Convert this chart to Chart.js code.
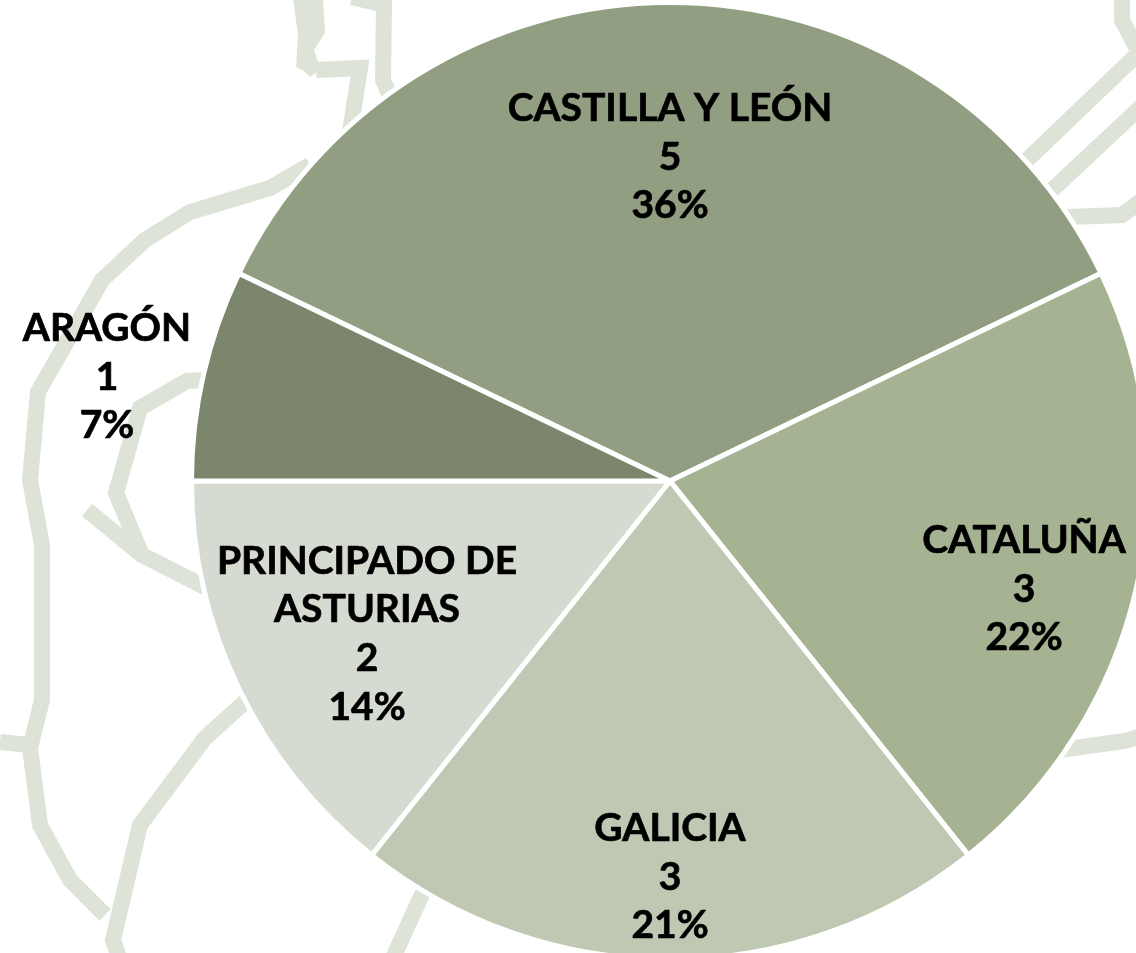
<!DOCTYPE html>
<html>
<head>
<meta charset="utf-8">
<style>
html,body{margin:0;padding:0;background:#fff;width:1136px;height:953px;overflow:hidden}
#wrap{position:absolute;left:0;top:0;width:1136px;height:953px;overflow:hidden}
canvas{position:absolute;left:0;top:0}
</style>
<script src="https://cdn.jsdelivr.net/npm/chart.js@4"></script>
</head>
<body>
<div id="wrap"><canvas id="c" width="1340" height="962"></canvas></div>
<script>
const categories = ['CASTILLA Y LEÓN','CATALUÑA','GALICIA','PRINCIPADO DE ASTURIAS','ARAGÓN'];
const values = [5,3,3,2,1];
const percents = ['36%','22%','21%','14%','7%'];
const labelLines = [['CASTILLA Y LEÓN'],['CATALUÑA'],['GALICIA'],['PRINCIPADO DE','ASTURIAS'],['ARAGÓN']];
const colors = ['#929E81','#A6B392','#BFC8B3','#D6DBD1','#7C866D'];
const labelOffsets = [[0,-324],[354,108],[0,396],[-303,153],[-563,-104]];

// Decorative backdrop of the slide (not data)
const backdrop = [
 [[316,70],[360,68],[350,132],[336,150]],
 [[352,-3],[384,5],[383,80],[392,100]],
 [[310,165],[270,188],[190,212],[145,240],[102,280],[38,392],[30,480],[42,545],[42,700],[30,748],[40,825],[70,880],[105,915]],
 [[0,742],[30,745]],
 [[205,380],[187,381],[140,408],[116,493],[142,555],[205,587]],
 [[87,510],[142,555]],
 [[247,700],[205,738],[140,825],[113,940],[120,960]],
 [[424,890],[392,960]],
 [[1122,-5],[1122,20],[1136,47]],
 [[1027,160],[1145,47]],
 [[1052,190],[1145,103]],
 [[1068,217],[1122,215],[1145,198]],
 [[1060,750],[1125,741],[1145,735]]
];
const backdropFill = [[293,-2],[323,-2],[325,33],[314,50],[318,62],[320,70],[310,77],[304,71],[296,67],[298,35]];

const backdropPlugin = {
  id:'backdrop',
  beforeDatasetsDraw(chart){
    const ctx = chart.ctx;
    ctx.save();
    ctx.strokeStyle = '#DDE3D6';
    ctx.fillStyle = '#DDE3D6';
    ctx.lineWidth = 16;
    ctx.lineJoin = 'miter';
    ctx.lineCap = 'butt';
    backdrop.forEach(path=>{
      ctx.beginPath();
      path.forEach((p,i)=> i ? ctx.lineTo(p[0],p[1]) : ctx.moveTo(p[0],p[1]));
      ctx.stroke();
    });
    ctx.beginPath();
    backdropFill.forEach((p,i)=> i ? ctx.lineTo(p[0],p[1]) : ctx.moveTo(p[0],p[1]));
    ctx.closePath();
    ctx.fill();
    ctx.restore();
  }
};

const labelPlugin = {
  id:'sliceLabels',
  afterDatasetsDraw(chart){
    const ctx = chart.ctx;
    const arcs = chart.getDatasetMeta(0).data;
    const lh = 48.7;
    ctx.save();
    ctx.fillStyle = '#000';
    ctx.strokeStyle = '#000';
    ctx.lineWidth = 0.7;
    ctx.lineJoin = 'round';
    ctx.font = 'bold 39px Lato, sans-serif';
    ctx.textAlign = 'center';
    ctx.textBaseline = 'middle';
    arcs.forEach((arc,i)=>{
      const lines = [...labelLines[i], String(values[i]), percents[i]];
      const cx = arc.x + labelOffsets[i][0];
      const cy = arc.y + labelOffsets[i][1];
      lines.forEach((t,k)=>{
        const y = cy + (k-(lines.length-1)/2)*lh;
        ctx.fillText(t, cx, y);
        ctx.strokeText(t, cx, y);
      });
    });
    ctx.restore();
  }
};

new Chart(document.getElementById('c'),{
  type:'pie',
  data:{labels:categories,datasets:[{data:values,backgroundColor:colors,borderColor:'#fff',borderWidth:5}]},
  options:{
    responsive:false,
    animation:false,
    rotation:-64.29,
    layout:{padding:0},
    plugins:{legend:{display:false},tooltip:{enabled:false},title:{display:false}}
  },
  plugins:[backdropPlugin,labelPlugin]
});
</script>
</body>
</html>
